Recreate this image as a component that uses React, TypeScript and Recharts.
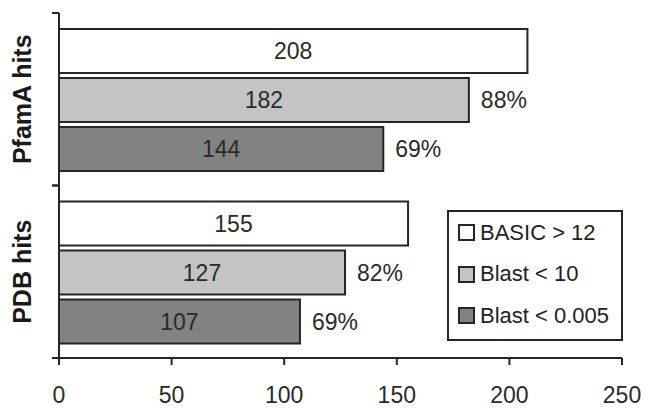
import { BarChart, Bar, XAxis, YAxis, LabelList, Legend } from 'recharts';

const groups = ['PfamA hits', 'PDB hits'];
const basicHits = [208, 155];
const blast10Hits = [182, 127];
const blast005Hits = [144, 107];
const seriesNames = ['BASIC > 12', 'Blast < 10', 'Blast < 0.005'];
const xTicks = [0, 50, 100, 150, 200, 250];

const fills = ['#ffffff', '#c4c4c4', '#828282'];
const ink = '#262626';
const font = '"Liberation Sans", Arial, sans-serif';

const pct = (v: number, base: number) => `${Math.round((v / base) * 100)}%`;

const data = groups.map((g, i) => ({
  group: g,
  basic: basicHits[i],
  blast10: blast10Hits[i],
  blast005: blast005Hits[i],
  pct10: pct(blast10Hits[i], basicHits[i]),
  pct005: pct(blast005Hits[i], basicHits[i]),
}));

// group label rotated at the band centre, with short outer ticks on the band edges
const GroupTick = (props: any) => {
  const { x, y, payload } = props;
  const half = payload.offset ?? 0;
  const lx = x - 37;
  return (
    <g>
      <line x1={x - 7} x2={x} y1={y - half} y2={y - half} stroke={ink} strokeWidth={2} />
      <line x1={x - 7} x2={x} y1={y + half} y2={y + half} stroke={ink} strokeWidth={2} />
      <text
        x={lx}
        y={y}
        transform={`rotate(-90 ${lx} ${y})`}
        textAnchor="middle"
        dominantBaseline="central"
        fontSize={25}
        fontWeight="bold"
        fontFamily={font}
        fill="#1a1a1a"
      >
        {payload.value}
      </text>
    </g>
  );
};

const LegendBox = () => (
  <div
    style={{
      boxSizing: 'border-box',
      width: 176,
      height: 131,
      border: `2px solid ${ink}`,
      background: '#fff',
      fontFamily: font,
      fontSize: 22,
      color: '#222',
    }}
  >
    {seriesNames.map((name, i) => (
      <div key={name} style={{ height: 41.5, display: 'flex', alignItems: 'center', paddingLeft: 9 }}>
        <span
          style={{
            boxSizing: 'border-box',
            width: 17,
            height: 17,
            border: `2px solid ${ink}`,
            background: fills[i],
            marginRight: 5,
          }}
        />
        <span>{name}</span>
      </div>
    ))}
  </div>
);

export default function HitsChart() {
  return (
    <div style={{ position: 'absolute', left: 0, top: 0 }}>
      <BarChart
        width={645}
        height={408}
        data={data}
        layout="vertical"
        margin={{ top: 13, right: 23, bottom: 4, left: 0 }}
        barCategoryGap={16}
        barGap={5}
      >
        <XAxis
          type="number"
          domain={[0, 250]}
          ticks={xTicks}
          interval={0}
          height={46}
          tickSize={7}
          tickMargin={22}
          axisLine={{ stroke: ink, strokeWidth: 2 }}
          tickLine={{ stroke: ink, strokeWidth: 2 }}
          tick={{ fill: '#2a2a2a', fontSize: 23, fontFamily: font }}
        />
        <YAxis
          type="category"
          dataKey="group"
          width={59}
          interval={0}
          tickSize={0}
          tickMargin={0}
          tickLine={false}
          axisLine={{ stroke: ink, strokeWidth: 2 }}
          tick={<GroupTick />}
        />
        <Legend
          layout="horizontal"
          verticalAlign="middle"
          content={<LegendBox />}
          wrapperStyle={{ left: 447, top: 210, width: 176, height: 131 }}
        />
        <Bar dataKey="basic" name={seriesNames[0]} fill={fills[0]} stroke={ink} strokeWidth={2} isAnimationActive={false}>
          <LabelList dataKey="basic" position="center" fill="#2a2a2a" fontSize={23} fontFamily={font} />
        </Bar>
        <Bar dataKey="blast10" name={seriesNames[1]} fill={fills[1]} stroke={ink} strokeWidth={2} isAnimationActive={false}>
          <LabelList dataKey="blast10" position="center" fill="#2a2a2a" fontSize={23} fontFamily={font} />
          <LabelList dataKey="pct10" position="right" offset={12} fill="#2a2a2a" fontSize={23} fontFamily={font} />
        </Bar>
        <Bar dataKey="blast005" name={seriesNames[2]} fill={fills[2]} stroke={ink} strokeWidth={2} isAnimationActive={false}>
          <LabelList dataKey="blast005" position="center" fill="#2a2a2a" fontSize={23} fontFamily={font} />
          <LabelList dataKey="pct005" position="right" offset={12} fill="#2a2a2a" fontSize={23} fontFamily={font} />
        </Bar>
      </BarChart>
    </div>
  );
}
